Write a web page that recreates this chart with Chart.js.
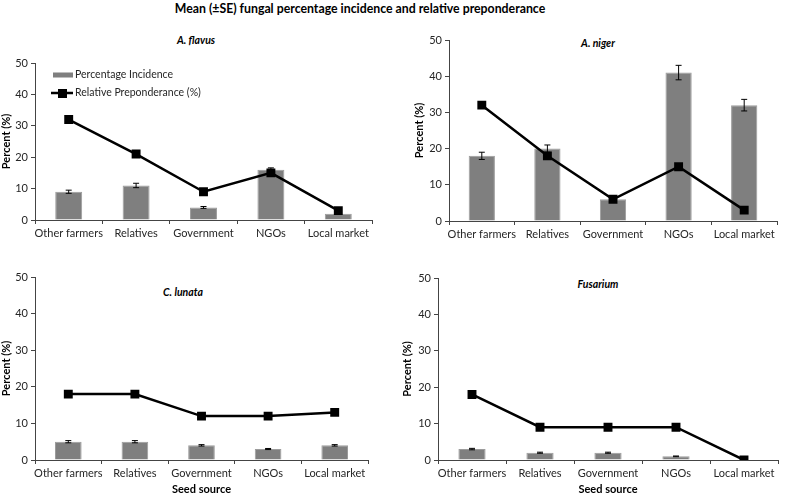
<!DOCTYPE html>
<html>
<head>
<meta charset="utf-8">
<script src="https://cdn.jsdelivr.net/npm/chart.js@4.4.1/dist/chart.umd.min.js"></script>
<style>
  body { margin: 0; background: #fff; width: 785px; height: 497px; position: relative; overflow: hidden; font-family: Lato, sans-serif; }
  canvas { position: absolute; left: 0; top: 0; }
  .t { position: absolute; white-space: nowrap; color: #000; }
  .sub { font-weight: bold; font-style: italic; font-size: 10.5px; transform: translate(-50%, -50%); }
</style>
</head>
<body>
<div class="t" style="left:0;width:720px;top:1px;text-align:center;font-weight:bold;font-size:12.3px">Mean (±SE) fungal percentage incidence and relative preponderance</div>
<div class="t sub" style="left:196px;top:40px">A. flavus</div>
<div class="t sub" style="left:598px;top:43px">A. niger</div>
<div class="t sub" style="left:183px;top:292px">C. lunata</div>
<div class="t sub" style="left:598px;top:284px">Fusarium</div>
<canvas id="c1" width="785" height="497"></canvas>
<canvas id="c2" width="785" height="497"></canvas>
<canvas id="c3" width="785" height="497"></canvas>
<canvas id="c4" width="785" height="497"></canvas>
<script>
const sources = ['Other farmers', 'Relatives', 'Government', 'NGOs', 'Local market'];

const flavusIncidence = [9, 11, 4, 16, 2];
const flavusSE = [0.5, 0.7, 0.3, 0.6, 0.1];
const flavusPrep = [32, 21, 9, 15, 3];

const nigerIncidence = [18, 20, 6, 41, 32];
const nigerSE = [1, 1, 0.3, 2, 1.6];
const nigerPrep = [32, 18, 6, 15, 3];

const lunataIncidence = [5, 5, 4, 3, 4];
const lunataSE = [0.3, 0.3, 0.2, 0.15, 0.2];
const lunataPrep = [18, 18, 12, 12, 13];

const fusariumIncidence = [3, 2, 2, 1, 0];
const fusariumSE = [0.2, 0.15, 0.15, 0.1, 0];
const fusariumPrep = [18, 9, 9, 9, 0];

const yMax = 50;
const yStep = 10;

const barColor = '#7f7f7f';
const axisColor = '#444';
const textColor = '#262626';
const FONT = 'Lato, sans-serif';

const errorBars = {
  id: 'errorBars',
  afterDatasetDraw(chart, args) {
    const ds = chart.data.datasets[args.index];
    if (!ds.se) return;
    const y = chart.scales.y;
    const ctx = chart.ctx;
    ctx.save();
    ctx.strokeStyle = '#000';
    ctx.lineWidth = 1;
    args.meta.data.forEach((bar, i) => {
      const e = ds.se[i];
      if (!e) return;
      const top = y.getPixelForValue(ds.data[i] + e);
      const bot = y.getPixelForValue(ds.data[i] - e);
      ctx.beginPath();
      ctx.moveTo(bar.x, top); ctx.lineTo(bar.x, bot);
      ctx.moveTo(bar.x - 3, top); ctx.lineTo(bar.x + 3, top);
      ctx.moveTo(bar.x - 3, bot); ctx.lineTo(bar.x + 3, bot);
      ctx.stroke();
    });
    ctx.restore();
  },
};

const legendBox = {
  id: 'legendBox',
  afterDraw(chart) {
    const ctx = chart.ctx;
    ctx.save();
    ctx.fillStyle = barColor;
    ctx.fillRect(53, 72.5, 20, 5);
    ctx.strokeStyle = '#000';
    ctx.lineWidth = 2.5;
    ctx.beginPath(); ctx.moveTo(51, 93); ctx.lineTo(73, 93); ctx.stroke();
    ctx.fillStyle = '#000';
    ctx.fillRect(58, 89, 9, 9);
    ctx.fillStyle = textColor;
    ctx.font = '10.5px ' + FONT;
    ctx.textBaseline = 'middle';
    ctx.fillText('Percentage Incidence', 75, 75);
    ctx.fillText('Relative Preponderance (%)', 75, 93);
    ctx.restore();
  },
};

function makePanel(id, box, incidence, se, prep, withLegend, xTitle) {
  const xH = xTitle ? 36 : 20;
  const plugins = [errorBars];
  if (withLegend) plugins.push(legendBox);
  new Chart(document.getElementById(id), {
    type: 'bar',
    data: {
      labels: sources,
      datasets: [
        {
          type: 'bar',
          label: 'Percentage Incidence',
          data: incidence,
          se: se,
          backgroundColor: barColor,
          borderColor: '#9c9c9c',
          borderWidth: 1,
          barPercentage: 0.4,
          categoryPercentage: 1,
          order: 2,
        },
        {
          type: 'line',
          label: 'Relative Preponderance (%)',
          data: prep,
          borderColor: '#000',
          backgroundColor: '#000',
          borderWidth: 2.5,
          pointStyle: 'rect',
          pointRadius: 6.3,
          pointBorderWidth: 0,
          order: 1,
        },
      ],
    },
    options: {
      responsive: false,
      animation: false,
      layout: {
        padding: {
          left: box.yLeft,
          top: box.top,
          right: 785 - box.right,
          bottom: 497 - box.bottom - xH,
        },
      },
      plugins: {
        legend: { display: false },
        tooltip: { enabled: false },
      },
      scales: {
        x: {
          afterFit(s) { s.height = xH; },
          grid: { display: true, drawOnChartArea: false, tickLength: 4, color: axisColor },
          border: { display: true, color: axisColor },
          ticks: {
            color: textColor, padding: 3, maxRotation: 0, minRotation: 0, autoSkip: false,
            font: { family: FONT, size: 11 },
          },
          title: {
            display: !!xTitle,
            text: xTitle || '',
            color: '#000',
            padding: 0,
            font: { family: FONT, size: 11, weight: 'bold' },
          },
        },
        y: {
          min: 0,
          max: yMax,
          afterFit(s) { s.width = box.left - box.yLeft; },
          grid: { display: true, drawOnChartArea: false, tickLength: 4, color: axisColor },
          border: { display: true, color: axisColor },
          ticks: { stepSize: yStep, color: textColor, padding: 3, font: { family: FONT, size: 11 } },
          title: {
            display: true,
            text: 'Percent (%)',
            color: '#000',
            padding: 0,
            font: { family: FONT, size: 11, weight: 'bold' },
          },
        },
      },
    },
    plugins: plugins,
  });
}

makePanel('c1', { yLeft: 0, left: 35, top: 63, right: 372, bottom: 220 }, flavusIncidence, flavusSE, flavusPrep, true, null);
makePanel('c2', { yLeft: 413, left: 449, top: 40, right: 777, bottom: 221 }, nigerIncidence, nigerSE, nigerPrep, false, null);
makePanel('c3', { yLeft: 0, left: 35, top: 277, right: 368, bottom: 460 }, lunataIncidence, lunataSE, lunataPrep, false, 'Seed source');
makePanel('c4', { yLeft: 401, left: 438, top: 278, right: 778, bottom: 460 }, fusariumIncidence, fusariumSE, fusariumPrep, false, 'Seed source');
</script>
</body>
</html>
